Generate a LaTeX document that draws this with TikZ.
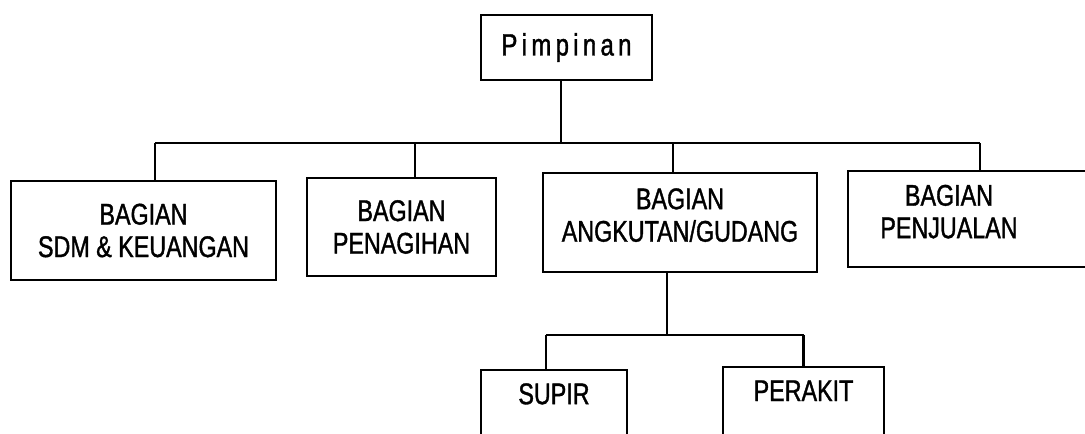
\documentclass[tikz,border=0pt]{standalone}
\usepackage{fontspec}
\setmainfont{Liberation Sans}[FakeStretch=0.78,FakeBold=1.2]
\newfontfamily\spacedfont{Liberation Sans}[FakeStretch=0.78,FakeBold=1.2,LetterSpace=14]
\begin{document}
\begin{tikzpicture}[x=0.02cm, y=-0.02cm, line width=1.4pt,
  unit/.style={draw, align=center, inner sep=0pt, font=\fontsize{17pt}{18.5pt}\selectfont},
  subunit/.style={unit, minimum height=1.4cm, text depth=0.45cm}]
\useasboundingbox (0,0) rectangle (1085,433);
\clip (0,0) rectangle (1085,433);
% boxes
\node[unit, minimum width=3.42cm, minimum height=1.3cm, font=\fontsize{17.5pt}{19pt}\spacedfont] (pim) at (566.5,47.5) {Pimpinan};
\node[unit, minimum width=5.3cm, minimum height=1.98cm] (sdm) at (143.5,230.5) {BAGIAN\\SDM \& KEUANGAN};
\node[unit, minimum width=3.78cm, minimum height=1.96cm] (pen) at (401.5,227) {BAGIAN\\PENAGIHAN};
\node[unit, minimum width=5.48cm, minimum height=1.98cm, text depth=0.3cm] (ang) at (680,222.5) {BAGIAN\\ANGKUTAN/GUDANG};
\node[unit, minimum width=5.04cm, minimum height=1.92cm, text depth=0.3cm] (jual) at (974,219) {BAGIAN\hspace*{1cm}\\PENJUALAN\hspace*{1cm}};
\node[subunit, minimum width=2.92cm] (supir) at (554,405) {SUPIR};
\node[subunit, minimum width=3.22cm] (perakit) at (803.5,402) {PERAKIT};
% connectors
\coordinate (bus) at (0,143);
\coordinate (subbus) at (0,335);
\draw ([xshift=-0.11cm]pim.south) -- ([xshift=-0.11cm]pim.south |- bus);
\draw ([xshift=0.23cm]sdm.north |- bus) -- ([xshift=0.12cm]jual.north |- bus);
\foreach \n/\dx in {sdm/0.23,pen/0.27,ang/-0.14,jual/0.12}
  \draw ([xshift=\dx cm]\n.north) -- ([xshift=\dx cm]\n.north |- bus);
\draw ([xshift=-0.26cm]ang.south) -- ([xshift=-0.26cm]ang.south |- subbus);
\draw ([xshift=-0.16cm]supir.north |- subbus) -- (perakit.north |- subbus);
\foreach \n/\dx in {supir/-0.16,perakit/0}
  \draw ([xshift=\dx cm]\n.north) -- ([xshift=\dx cm]\n.north |- subbus);
\end{tikzpicture}
\end{document}
